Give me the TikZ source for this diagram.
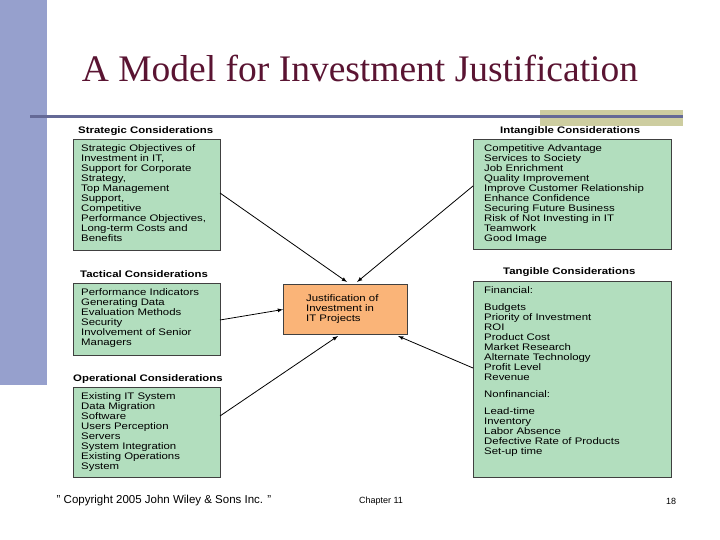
\documentclass[tikz,border=0pt]{standalone}
\usepackage{fontspec}
\setmainfont{Liberation Sans}
\newfontfamily\serifx{Liberation Serif}
\newfontfamily\wide[FakeStretch=1.2]{Liberation Sans}
\begin{document}
\begin{tikzpicture}[x=1pt,y=-1pt,
 box/.style={draw=black!75,line width=1pt,fill=boxg,anchor=north west,inner sep=0pt},
 ttl/.style={anchor=west,inner sep=0pt,font=\wide\fontsize{9.5}{10}\selectfont\bfseries},
 txt/.style={anchor=north west,align=left,font=\wide\fontsize{9.5}{10}\selectfont,inner sep=0pt},
 arr/.style={-latex,line width=0.8pt}]
\definecolor{boxg}{RGB}{178,222,190}
\definecolor{bluebar}{RGB}{150,160,205}
\definecolor{lineb}{RGB}{100,105,150}
\definecolor{khaki}{RGB}{205,205,160}
\definecolor{ttlc}{RGB}{90,20,50}
\definecolor{orng}{RGB}{250,180,120}
\useasboundingbox (0,0) rectangle (720,540);
\fill[bluebar] (0,0) rectangle (47,385);
\fill[khaki] (540,110) rectangle (683,126);
\draw[lineb,line width=3pt] (30,117) -- (683,117);
\node[font=\serifx\fontsize{37.5}{42}\selectfont,text=ttlc] (title) at (360,68) {A Model for Investment Justification};
% boxes
\node[box,minimum width=147,minimum height=111] (s) at (73,139) {};
\node[box,minimum width=147,minimum height=72] (t) at (73,283) {};
\node[box,minimum width=147,minimum height=90] (o) at (73,387) {};
\node[box,minimum width=198,minimum height=110] (i) at (473,139) {};
\node[box,minimum width=198,minimum height=196] (g) at (473,281) {};
\node[draw=black!75,line width=1pt,fill=orng,anchor=north west,minimum width=124,minimum height=50] (c) at (283,284) {};
\node[ttl] (st) at (78,131) {Strategic Considerations};
\node[ttl] (tt) at (80,274) {Tactical Considerations};
\node[ttl] (ot) at (73,379) {Operational Considerations};
\node[ttl] (it) at (500,131) {Intangible Considerations};
\node[ttl] (gt) at (503,272) {Tangible Considerations};
\node[txt] (sx) at (81,144) {Strategic Objectives of\\Investment in IT,\\Support for Corporate\\Strategy,\\Top Management\\Support,\\Competitive\\Performance Objectives,\\Long-term Costs and\\Benefits};
\node[txt] (tx) at (81,288) {Performance Indicators\\Generating Data\\Evaluation Methods\\Security\\Involvement of Senior\\Managers};
\node[txt] (ox) at (81,392) {Existing IT System\\Data Migration\\Software\\Users Perception\\Servers\\System Integration\\Existing Operations\\System};
\node[txt] (ix) at (484,144) {Competitive Advantage\\Services to Society\\Job Enrichment\\Quality Improvement\\Improve Customer Relationship\\Enhance Confidence\\Securing Future Business\\Risk of Not Investing in IT\\Teamwork\\Good Image};
\node[txt] (gx) at (484,286) {Financial:\\[7pt]Budgets\\Priority of Investment\\ROI\\Product Cost\\Market Research\\Alternate Technology\\Profit Level\\Revenue\\[7pt]Nonfinancial:\\[7pt]Lead-time\\Inventory\\Labor Absence\\Defective Rate of Products\\Set-up time};
\node[txt] (cx) at (306,294) {Justification of\\Investment in\\IT Projects};
\coordinate (c1) at (347,282);
\coordinate (c2) at (357,282);
\coordinate (c3) at (338,336);
\coordinate (c4) at (398,336);
\draw[arr] (220,193) -- (c1);
\draw[arr] (473,186) -- (c2);
\draw[arr] (220,320) -- (c.west);
\draw[arr] (220,416) -- (c3);
\draw[arr] (473,368) -- (c4);
\node[font=\fontsize{11.5}{13}\selectfont] (cp) at (164,501) {" Copyright 2005 John Wiley \& Sons Inc. "};
\node[font=\fontsize{9}{10}\selectfont] (ch) at (381,501) {Chapter 11};
\node[font=\fontsize{9}{10}\selectfont] (pg) at (671,501) {18};
\end{tikzpicture}
\end{document}
